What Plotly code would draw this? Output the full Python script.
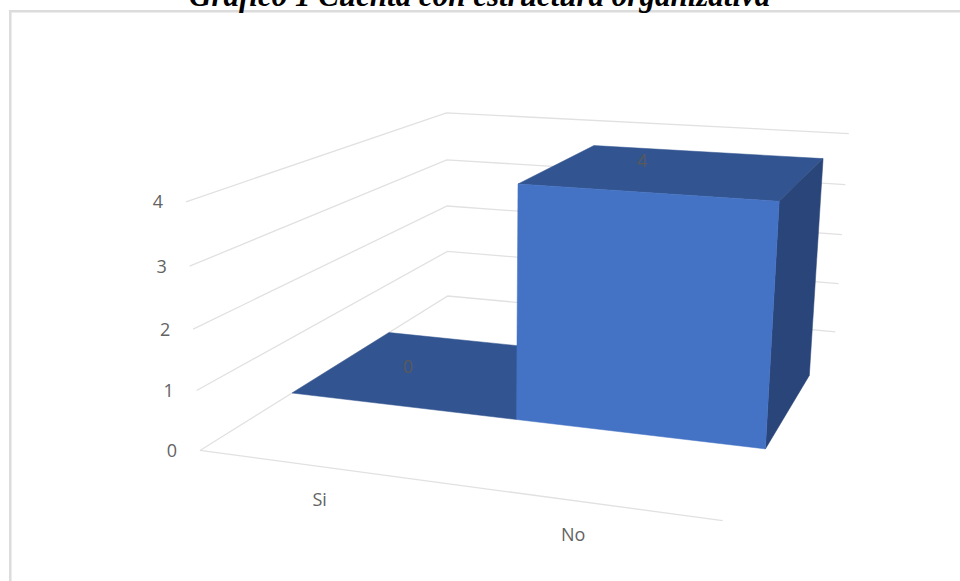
import numpy as np
import plotly.graph_objects as go

# ---- data ----
categories = ["Si", "No"]
values = [0, 4]
z_ticks = [0, 1, 2, 3, 4]
title_text = "Gráfico 1 Cuenta con estructura organizativa"

# ---- depth layout of the 3-D column chart (gap width 0, gap depth 150 %) ----
BAR_Y0, BAR_Y1 = 0.3, 0.7
X_MAX, Y_MAX, Z_MAX = len(categories), 1.0, max(z_ticks)

# ---- fitted perspective camera of the reference ----
ASPECT = np.array([1.0, 1.267, 0.475])
EYE = np.array([0.985, -3.088, 0.776])
CENTER = np.array([-0.105, -0.106, -0.206])
UP = np.array([-0.103, 0.277, 0.955])
FOCAL, PX, PY = 1583.26, 492.55, 378.66

fwd = (CENTER - EYE) / np.linalg.norm(CENTER - EYE)
right = np.cross(fwd, UP); right /= np.linalg.norm(right)
upv = np.cross(right, fwd)


def project(x, y, z):
    """Map data coordinates (category, depth, value) to the flat plot plane."""
    p = (np.array([x / X_MAX, y / Y_MAX, z / Z_MAX]) - 0.5) * ASPECT - EYE
    d = p @ fwd
    return PX + FOCAL * (p @ right) / d, PY - FOCAL * (p @ upv) / d


def polyline(points):
    xy = [project(*p) for p in points]
    return [a for a, _ in xy], [b for _, b in xy]


fig = go.Figure()


def add_line(points, color="#E1E1E1", width=1.3):
    xs, ys = polyline(points)
    fig.add_trace(go.Scatter(x=xs, y=ys, mode="lines", hoverinfo="skip",
                             line=dict(color=color, width=width), showlegend=False))


def add_face(points, color):
    xs, ys = polyline(points + points[:1])
    fig.add_trace(go.Scatter(x=xs, y=ys, mode="lines", fill="toself", fillcolor=color,
                             hoverinfo="skip", line=dict(color=color, width=0.5), showlegend=False))


# gridlines on the two walls and the front floor edge
for z in z_ticks:
    add_line([(0, 0, z), (0, Y_MAX, z), (X_MAX, Y_MAX, z)])
add_line([(0, 0, 0), (X_MAX, 0, 0)])

TOP, FRONT, SIDE = "#325591", "#4472C4", "#2A4579"
for i, v in enumerate(values):
    x0, x1 = i, i + 1
    add_face([(x0, BAR_Y0, v), (x1, BAR_Y0, v), (x1, BAR_Y1, v), (x0, BAR_Y1, v)], TOP)
    if v > 0:
        add_face([(x1, BAR_Y0, 0), (x1, BAR_Y1, 0), (x1, BAR_Y1, v), (x1, BAR_Y0, v)], SIDE)
        add_face([(x0, BAR_Y0, 0), (x1, BAR_Y0, 0), (x1, BAR_Y0, v), (x0, BAR_Y0, v)], FRONT)

FONT = dict(family="Open Sans", size=18, color="#636363")


def add_text(xs, ys, labels, font=FONT):
    fig.add_trace(go.Scatter(x=xs, y=ys, text=labels, mode="text", textposition="middle center",
                             textfont=font, hoverinfo="skip", showlegend=False, cliponaxis=False))


# value axis labels
pts = [project(0, 0, z) for z in z_ticks]
add_text([p[0] - 28 for p in pts], [p[1] + 2 for p in pts], [str(z) for z in z_ticks])
# category labels
CAT_DX = [0, -7]
pts = [project(i + 0.5, 0, 0) for i in range(len(categories))]
add_text([p[0] + d for p, d in zip(pts, CAT_DX)], [p[1] + 35 for p in pts], categories)
# data labels (position on the top face of each column)
LABEL_DX = [0.32, 0.313]
LABEL_DY = [0.494, 0.56]
pts = [project(i + dx, dy, v) for i, (dx, dy, v) in enumerate(zip(LABEL_DX, LABEL_DY, values))]
add_text([p[0] for p in pts], [p[1] for p in pts], [str(v) for v in values],
         dict(family="Open Sans", size=18, color="#595959"))

fig.update_layout(
    width=960, height=581, margin=dict(l=0, r=0, t=0, b=0),
    paper_bgcolor="white", plot_bgcolor="white", showlegend=False,
    xaxis=dict(range=[0, 960], visible=False, domain=[0, 1]),
    yaxis=dict(range=[581, 0], visible=False, domain=[0, 1]),
    shapes=[
        dict(type="line", xref="paper", yref="paper", x0=10.3 / 960, x1=10.3 / 960, y0=0, y1=1 - 11.3 / 581,
             line=dict(color="#DCDCDC", width=2.5)),
        dict(type="line", xref="paper", yref="paper", x0=9 / 960, x1=1, y0=1 - 11.3 / 581, y1=1 - 11.3 / 581,
             line=dict(color="#DCDCDC", width=2.5)),
    ],
    annotations=[dict(text="<b><i>" + title_text + "</i></b>", xref="paper", yref="paper",
                      x=479 / 960, y=1 - 15 / 581, xanchor="center", yanchor="bottom", showarrow=False,
                      font=dict(family="Liberation Serif", size=31, color="black"))],
)
fig.write_html("out.html", config={"displayModeBar": False},
               post_script="document.body.style.margin='0';document.documentElement.style.overflow='hidden';")
